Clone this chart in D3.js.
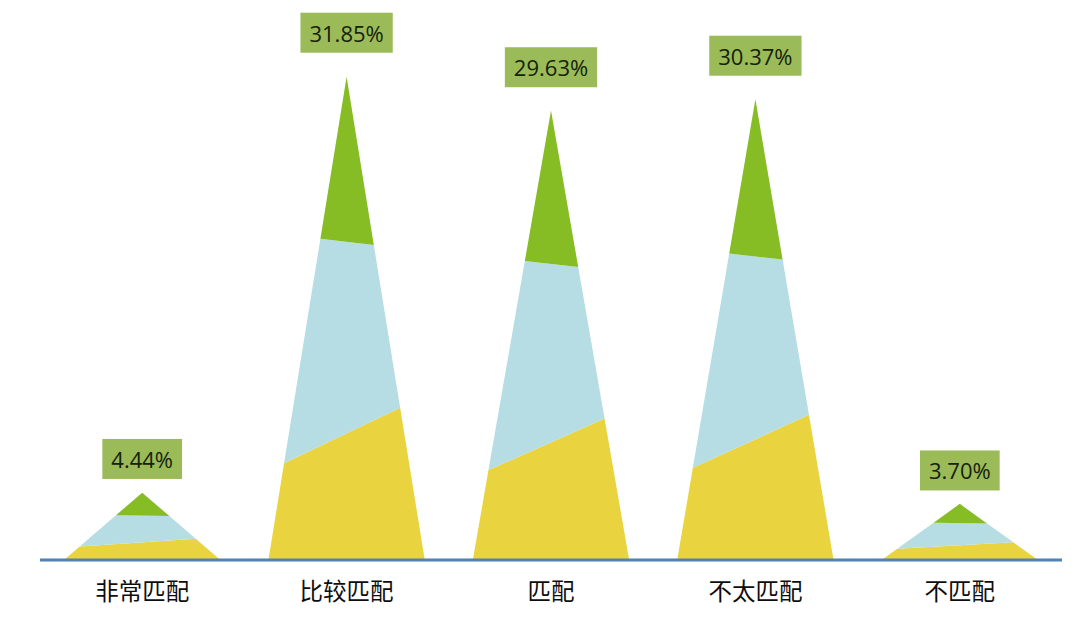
<html>
  <head>
    <meta charset="utf-8">
    <title>Cone chart</title>
    <style>
      body { margin: 0; background: #fff; }
    </style>
  </head>
  <body>
  </body>

  <script src="https://d3js.org/d3.v7.min.js" charset="utf-8"></script>
  <script type="text/javascript">

// categories and their share (%)
var categories = ['非常匹配', '比较匹配', '匹配', '不太匹配', '不匹配'];
var values = [4.44, 31.85, 29.63, 30.37, 3.70];
var valueLabels = ['4.44%', '31.85%', '29.63%', '30.37%', '3.70%'];

var w = 1076, h = 617;
var baseY = 560;

var svg = d3.select('body').append('svg')
    .attr('width', w)
    .attr('height', h)
    .style('background', '#fff');

var x = d3.scaleBand()
    .domain(categories)
    .range([40, 1062])
    .paddingInner(0.235)
    .paddingOuter(0.1175);

var y = d3.scaleLinear()
    .domain([0, 35])
    .range([baseY, 29]);

// bands of each cone: fraction of height at left edge / right edge
var bands = [
  {fill: '#e9d43f', lo: [0, 0],       hi: [0.20, 0.315]},
  {fill: '#b5dde3', lo: [0.20, 0.315], hi: [0.665, 0.652]},
  {fill: '#86bc24', lo: [0.665, 0.652], hi: [1, 1]}
];

var data = categories.map(function(c, i){
  return {cat: c, value: values[i], label: valueLabels[i]};
});

function edgePoint(d, side, f){
  var x0 = x(d.cat), x1 = x0 + x.bandwidth();
  var cx = x0 + x.bandwidth() / 2;
  var top = y(d.value);
  var ex = side == 0 ? x0 : x1;
  return [ex + f * (cx - ex), baseY + f * (top - baseY)];
}

var cones = svg.selectAll('g.cone')
    .data(data)
    .enter()
    .append('g')
    .attr('class', 'cone');

bands.forEach(function(b){
  cones.append('polygon')
      .attr('points', function(d){
        var pts = [
          edgePoint(d, 0, b.lo[0]),
          edgePoint(d, 1, b.lo[1]),
          edgePoint(d, 1, b.hi[1]),
          edgePoint(d, 0, b.hi[0])
        ];
        return pts.map(function(p){ return p.join(','); }).join(' ');
      })
      .style('fill', b.fill);
});

// axis line
svg.append('line')
    .attr('x1', x.range()[0])
    .attr('x2', x.range()[1])
    .attr('y1', baseY)
    .attr('y2', baseY)
    .style('stroke', '#5181b4')
    .style('stroke-width', 3);

// category labels
svg.selectAll('text.cat')
    .data(data)
    .enter()
    .append('text')
    .attr('class', 'cat')
    .attr('x', function(d){ return x(d.cat) + x.bandwidth() / 2; })
    .attr('y', 590)
    .attr('text-anchor', 'middle')
    .attr('dominant-baseline', 'central')
    .style('font-family', '"Noto Sans CJK SC", sans-serif')
    .style('font-size', '23.5px')
    .style('fill', '#0d0d0d')
    .text(function(d){ return d.cat; });

// value label boxes
var lab = svg.selectAll('g.lab')
    .data(data)
    .enter()
    .append('g')
    .attr('class', 'lab')
    .attr('transform', function(d){
      var cx = x(d.cat) + x.bandwidth() / 2;
      var hgt = baseY - y(d.value);
      var bottom = y(d.value) - (12 + 0.025 * hgt);
      return 'translate(' + cx + ',' + (bottom - 20) + ')';
    });

lab.append('text')
    .attr('text-anchor', 'middle')
    .attr('dominant-baseline', 'central')
    .style('font-family', '"Open Sans", sans-serif')
    .style('font-size', '22px')
    .style('fill', '#14220a')
    .text(function(d){ return d.label; });

lab.insert('rect', 'text')
    .each(function(d){
      var tw = this.parentNode.querySelector('text').getComputedTextLength();
      d3.select(this)
        .attr('x', -tw / 2 - 9)
        .attr('y', -20)
        .attr('width', tw + 18)
        .attr('height', 40);
    })
    .style('fill', '#9bbb59');

  </script>
</html>
